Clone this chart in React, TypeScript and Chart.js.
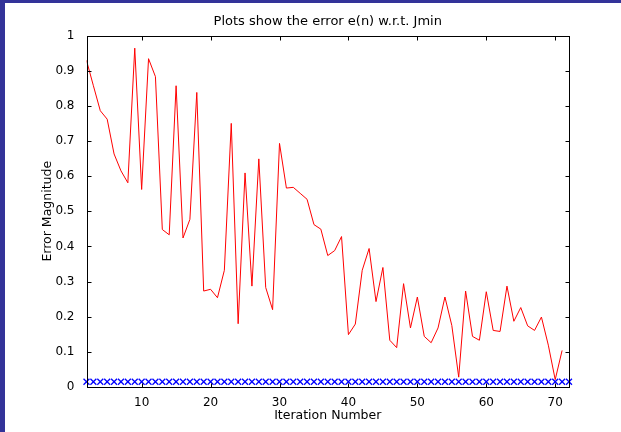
import React, { useEffect, useRef } from "react";
import { Chart, registerables } from "chart.js";

Chart.register(...registerables);

const chartTitle = "Plots show the error e(n) w.r.t. Jmin";
const xAxisTitle = "Iteration Number";
const yAxisTitle = "Error Magnitude";

const iterations = [
  2, 3, 4, 5, 6, 7, 8, 9, 10, 11, 12, 13, 14, 15, 16, 17, 18, 19, 20, 21, 22, 23, 24, 25,
  26, 27, 28, 29, 30, 31, 32, 33, 34, 35, 36, 37, 38, 39, 40, 41, 42, 43, 44, 45, 46, 47, 48, 49,
  50, 51, 52, 53, 54, 55, 56, 57, 58, 59, 60, 61, 62, 63, 64, 65, 66, 67, 68, 69, 70, 71,
];

const errorMagnitude = [
  0.929, 0.857, 0.786, 0.762, 0.663, 0.615, 0.581, 0.964, 0.562, 0.934, 0.883, 0.448, 0.433,
  0.857, 0.424, 0.477, 0.838, 0.273, 0.278, 0.254, 0.332, 0.750, 0.180, 0.609,
  0.287, 0.649, 0.283, 0.220, 0.693, 0.566, 0.568, 0.551, 0.534, 0.462, 0.449, 0.374, 0.388,
  0.428, 0.149, 0.179, 0.332, 0.394, 0.243, 0.340, 0.133, 0.112, 0.294, 0.168,
  0.256, 0.144, 0.126, 0.168, 0.256, 0.175, 0.028, 0.273, 0.144, 0.133, 0.271, 0.161, 0.158,
  0.287, 0.187, 0.226, 0.174, 0.161, 0.199, 0.119, 0.021, 0.104,
];

const jminIterations = [
  2, 3, 4, 5, 6, 7, 8, 9, 10, 11, 12, 13, 14, 15, 16, 17, 18, 19, 20, 21, 22, 23, 24, 25,
  26, 27, 28, 29, 30, 31, 32, 33, 34, 35, 36, 37, 38, 39, 40, 41, 42, 43, 44, 45, 46, 47, 48, 49,
  50, 51, 52, 53, 54, 55, 56, 57, 58, 59, 60, 61, 62, 63, 64, 65, 66, 67, 68, 69, 70, 71, 72,
];

const jminValues = [
  0.015, 0.015, 0.015, 0.015, 0.015, 0.015, 0.015, 0.015, 0.015, 0.015, 0.015, 0.015,
  0.015, 0.015, 0.015, 0.015, 0.015, 0.015, 0.015, 0.015, 0.015, 0.015, 0.015, 0.015,
  0.015, 0.015, 0.015, 0.015, 0.015, 0.015, 0.015, 0.015, 0.015, 0.015, 0.015, 0.015,
  0.015, 0.015, 0.015, 0.015, 0.015, 0.015, 0.015, 0.015, 0.015, 0.015, 0.015, 0.015,
  0.015, 0.015, 0.015, 0.015, 0.015, 0.015, 0.015, 0.015, 0.015, 0.015, 0.015, 0.015,
  0.015, 0.015, 0.015, 0.015, 0.015, 0.015, 0.015, 0.015, 0.015, 0.015, 0.015,
];

const xTickValues = [10, 20, 30, 40, 50, 60, 70];
const yTickValues = [0, 0.1, 0.2, 0.3, 0.4, 0.5, 0.6, 0.7, 0.8, 0.9, 1];
const xRange = [2, 72];
const yRange = [0, 1];

const W = 621;
const H = 432;
const FONT = "'DejaVu Sans', 'Liberation Sans', Arial, sans-serif";

const framePlugin = {
  id: "frame",
  beforeDraw(chart: any) {
    const { ctx } = chart;
    ctx.save();
    ctx.fillStyle = "#ffffff";
    ctx.fillRect(0, 0, W, H);
    ctx.fillStyle = "#333399";
    ctx.fillRect(0, 0, 5, H);
    ctx.fillRect(0, 0, W, 3);
    ctx.restore();
  },
  afterDraw(chart: any) {
    const { ctx, chartArea } = chart;
    const xs = chart.scales.x;
    const ys = chart.scales.y;
    const l = Math.round(chartArea.left) + 0.5;
    const r = Math.round(chartArea.right) + 0.5;
    const t = Math.round(chartArea.top) + 0.5;
    const b = Math.round(chartArea.bottom) + 0.5;
    ctx.save();
    ctx.strokeStyle = "#000000";
    ctx.lineWidth = 1;
    ctx.strokeRect(l, t, r - l, b - t);
    const len = 4;
    ctx.beginPath();
    xTickValues.forEach((v) => {
      const px = Math.round(xs.getPixelForValue(v)) + 0.5;
      ctx.moveTo(px, b);
      ctx.lineTo(px, b - len);
      ctx.moveTo(px, t);
      ctx.lineTo(px, t + len);
    });
    yTickValues.forEach((v) => {
      const py = Math.round(ys.getPixelForValue(v)) + 0.5;
      ctx.moveTo(l, py);
      ctx.lineTo(l + len, py);
      ctx.moveTo(r, py);
      ctx.lineTo(r - len, py);
    });
    ctx.stroke();
    ctx.restore();
  },
};

export default function App() {
  const canvasRef = useRef<HTMLCanvasElement | null>(null);

  useEffect(() => {
    document.body.style.margin = "0";
    const canvas = canvasRef.current;
    if (!canvas) return;
    const chart = new Chart(canvas, {
      type: "line",
      data: {
        datasets: [
          {
            label: "Error",
            data: iterations.map((x, i) => ({ x, y: errorMagnitude[i] })),
            borderColor: "#ff0000",
            backgroundColor: "#ff0000",
            borderWidth: 1,
            pointRadius: 0,
            tension: 0,
            fill: false,
          },
          {
            label: "Jmin",
            data: jminIterations.map((x, i) => ({ x, y: jminValues[i] })),
            showLine: false,
            borderColor: "#0000ff",
            backgroundColor: "#0000ff",
            pointStyle: "crossRot",
            pointRadius: 4.2,
            pointBorderWidth: 1.3,
            clip: false as any,
          },
        ],
      },
      options: {
        responsive: false,
        animation: false,
        events: [],
        layout: { padding: { left: 0, right: 52, top: 13.4, bottom: 0 } },
        plugins: {
          legend: { display: false },
          tooltip: { enabled: false },
          title: {
            display: true,
            fullSize: false,
            text: chartTitle,
            color: "#000000",
            font: { family: FONT, size: 13, weight: "normal" },
            padding: { top: 0, bottom: 6.5 },
          },
        },
        scales: {
          x: {
            type: "linear",
            min: xRange[0],
            max: xRange[1],
            grid: { display: false },
            border: { display: false },
            afterBuildTicks: (scale: any) => {
              scale.ticks = xTickValues.map((value) => ({ value }));
            },
            afterFit: (scale: any) => {
              scale.height = 45;
            },
            ticks: {
              color: "#000000",
              font: { family: FONT, size: 12 },
              padding: 1,
              maxRotation: 0,
              autoSkip: false,
              callback: (v: any) => String(v),
            },
            title: {
              display: true,
              text: xAxisTitle,
              color: "#000000",
              font: { family: FONT, size: 12.5 },
              padding: { top: 0, bottom: 8.5 },
            },
          },
          y: {
            type: "linear",
            min: yRange[0],
            max: yRange[1],
            grid: { display: false },
            border: { display: false },
            afterBuildTicks: (scale: any) => {
              scale.ticks = yTickValues.map((value) => ({ value }));
            },
            afterFit: (scale: any) => {
              scale.width = 86.5;
            },
            ticks: {
              color: "#000000",
              font: { family: FONT, size: 12 },
              padding: 4,
              autoSkip: false,
              callback: (v: any) => String(Math.round(Number(v) * 10) / 10),
            },
            title: {
              display: true,
              text: yAxisTitle,
              color: "#000000",
              font: { family: FONT, size: 12.5 },
              padding: { top: 40, bottom: 0 },
            },
          },
        },
      },
      plugins: [framePlugin],
    });
    return () => chart.destroy();
  }, []);

  return (
    <div style={{ position: "fixed", left: 0, top: 0, width: W, height: H, background: "#fff" }}>
      <canvas ref={canvasRef} width={W} height={H} style={{ width: W, height: H, display: "block" }} />
    </div>
  );
}
